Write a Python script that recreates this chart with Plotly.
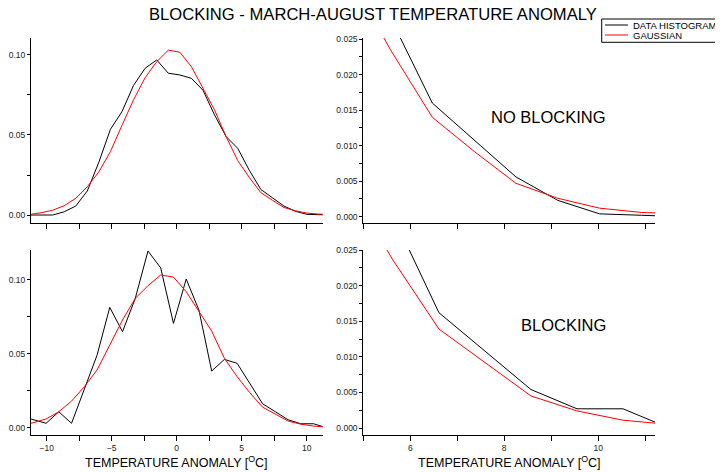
import plotly.graph_objects as go

# The page body has an 8 px margin, so the figure is drawn 8 px in from the
# window's top-left corner; size it to fill the remaining 715 x 464 area.
OFF = 8
W, H = 723 - OFF, 472 - OFF

# ---- data: NO BLOCKING (top row) ----
x_nb = [-11.33, -10.44, -9.55, -8.66, -7.77, -6.88, -5.99, -5.10, -4.21, -3.32,
        -2.43, -1.54, -0.65, 0.24, 1.13, 2.02, 2.91, 3.80, 4.69, 5.58,
        6.47, 7.36, 8.25, 9.14, 10.03, 10.92, 11.81]
hist_nb = [0.0, 0.0, 0.0, 0.002, 0.0056, 0.015, 0.033, 0.0535, 0.0646, 0.081,
           0.0917, 0.0969, 0.0886, 0.0875, 0.0854, 0.078, 0.0625, 0.049, 0.0417, 0.028,
           0.016, 0.0108, 0.0056, 0.0023, 0.0004, 0.0002, 0.0]
gauss_nb = [0.0003, 0.0014, 0.003, 0.0058, 0.0104, 0.0177, 0.027, 0.0396, 0.056, 0.072,
            0.0858, 0.0958, 0.103, 0.1017, 0.0927, 0.079, 0.0656, 0.049, 0.034, 0.0235,
            0.014, 0.0092, 0.0047, 0.0026, 0.0012, 0.0006, 0.0004]

# ---- data: BLOCKING (bottom row) ----
x_bl = [-11.20, -10.05, -9.07, -8.09, -7.11, -6.13, -5.15, -4.17, -3.19, -2.21,
        -1.23, -0.25, 0.73, 1.71, 2.69, 3.67, 4.65, 5.63, 6.61, 7.59,
        8.57, 9.55, 10.53, 11.51]
hist_bl = [0.0059, 0.003, 0.0108, 0.003, 0.026, 0.049, 0.0813, 0.0649, 0.0874, 0.1194,
           0.108, 0.0705, 0.1005, 0.0795, 0.0383, 0.0462, 0.0435, 0.0298, 0.0162, 0.0108,
           0.0054, 0.0027, 0.0027, 0.0]
gauss_bl = [0.003, 0.0059, 0.0108, 0.018, 0.0277, 0.039, 0.0559, 0.0728, 0.0874, 0.096,
            0.1032, 0.1018, 0.0919, 0.0784, 0.0653, 0.0469, 0.0345, 0.0236, 0.0139, 0.0092,
            0.0045, 0.0024, 0.0011, 0.0005]

series_names = ["DATA HISTOGRAM", "GAUSSIAN"]
title_text = "BLOCKING - MARCH-AUGUST TEMPERATURE ANOMALY"
xlabel = "TEMPERATURE ANOMALY [<sup>O</sup>C]"
panel_labels = ["NO BLOCKING", "BLOCKING"]

FONT = "Liberation Sans, Arial, sans-serif"
BLACK = "#000000"
RED = "#ff0000"


def px(x):
    return (x - OFF) / W


def py(y):
    return 1 - (y - OFF) / H


fig = go.Figure()

panels = [
    ("x", "y", x_nb, hist_nb, gauss_nb),
    ("x2", "y2", x_nb, hist_nb, gauss_nb),
    ("x3", "y3", x_bl, hist_bl, gauss_bl),
    ("x4", "y4", x_bl, hist_bl, gauss_bl),
]
for xa, ya, xs, hs, gs in panels:
    fig.add_trace(go.Scatter(x=xs, y=hs, mode="lines", xaxis=xa, yaxis=ya,
                             line=dict(color=BLACK, width=1), name=series_names[0],
                             showlegend=False))
    fig.add_trace(go.Scatter(x=xs, y=gs, mode="lines", xaxis=xa, yaxis=ya,
                             line=dict(color=RED, width=1), name=series_names[1],
                             showlegend=False))

dom_left = [px(31), px(322.7)]
dom_right = [px(363.3), px(655)]
dom_top = [py(222.7), py(38)]
dom_bot = [py(435), py(250)]

tickfont = dict(family=FONT, size=8.5, color="#222222")


def xaxis(domain, anchor, rng, dtick, minor_dtick, labels):
    return dict(domain=domain, anchor=anchor, range=rng, showgrid=False, zeroline=False,
                showline=True, linecolor=BLACK, linewidth=1, ticks="outside", ticklen=5,
                tickcolor=BLACK, tickwidth=1, tick0=0, dtick=dtick, showticklabels=labels,
                tickfont=tickfont, automargin=False,
                minor=dict(ticks="outside", ticklen=5, tickcolor=BLACK, tick0=0,
                           dtick=minor_dtick, showgrid=False))


def yaxis(domain, anchor, rng, dtick, minor_dtick, fmt):
    return dict(domain=domain, anchor=anchor, range=rng, showgrid=False, zeroline=False,
                showline=True, linecolor=BLACK, linewidth=1, ticks="outside", ticklen=3,
                tickcolor=BLACK, tickwidth=1, tick0=0, dtick=dtick, tickformat=fmt,
                tickfont=tickfont, automargin=False,
                minor=dict(ticks="outside", ticklen=3, tickcolor=BLACK, tick0=0,
                           dtick=minor_dtick, showgrid=False))


fig.update_layout(
    width=W, height=H,
    margin=dict(l=0, r=0, t=0, b=0),
    paper_bgcolor="white", plot_bgcolor="white",
    font=dict(family=FONT, color=BLACK),
    showlegend=False,
    xaxis=xaxis(dom_left, "y", [-11.21, 11.23], 5, 2.5, False),
    yaxis=yaxis(dom_top, "x", [-0.0048, 0.1106], 0.05, 0.025, ".2f"),
    xaxis2=xaxis(dom_right, "y2", [5.0, 11.21], 2, 1, False),
    yaxis2=yaxis(dom_top, "x2", [-0.000845, 0.02517], 0.005, 0.0025, ".3f"),
    xaxis3=xaxis(dom_left, "y3", [-11.21, 11.23], 5, 2.5, True),
    yaxis3=yaxis(dom_bot, "x3", [-0.0049, 0.1201], 0.05, 0.025, ".2f"),
    xaxis4=xaxis(dom_right, "y4", [5.0, 11.21], 2, 1, True),
    yaxis4=yaxis(dom_bot, "x4", [-0.00098, 0.025], 0.005, 0.0025, ".3f"),
)

ann = [
    dict(text=title_text, x=px(373), y=py(15), font=dict(size=16.6)),
    dict(text=xlabel, x=px(176.8), y=py(462), font=dict(size=12.5)),
    dict(text=xlabel, x=px(509.2), y=py(462), font=dict(size=12.5)),
    dict(text=panel_labels[0], x=px(608.3), y=py(117), xanchor="right", font=dict(size=16.5)),
    dict(text=panel_labels[1], x=px(608.3), y=py(324.5), xanchor="right", font=dict(size=16.5)),
    dict(text=series_names[0], x=px(631), y=py(25), xanchor="left", font=dict(size=9.5)),
    dict(text=series_names[1], x=px(631), y=py(35), xanchor="left", font=dict(size=9.5)),
]
for a in ann:
    base = dict(xref="paper", yref="paper", showarrow=False, xanchor="center", yanchor="middle")
    base.update(a)
    base["font"] = dict(family=FONT, color=BLACK, **a["font"])
    fig.add_annotation(**base)

shapes = [
    dict(type="rect", x0=px(601.7), x1=px(722), y0=py(42.3), y1=py(19),
         line=dict(color=BLACK, width=1), fillcolor="white", layer="below"),
    dict(type="line", x0=px(605), x1=px(628), y0=py(25), y1=py(25),
         line=dict(color=BLACK, width=1)),
    dict(type="line", x0=px(605), x1=px(628), y0=py(35), y1=py(35),
         line=dict(color=RED, width=1)),
]
for s in shapes:
    fig.add_shape(xref="paper", yref="paper", **s)

fig.write_html("out.html")
